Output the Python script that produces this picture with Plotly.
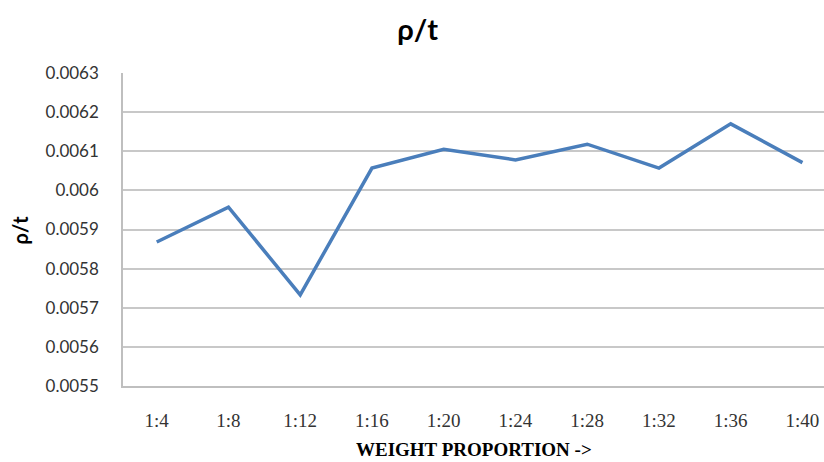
import plotly.graph_objects as go

# Weight proportion categories and measured ρ/t values
proportions = ["1:4", "1:8", "1:12", "1:16", "1:20", "1:24", "1:28", "1:32", "1:36", "1:40"]
rho_t = [0.005868, 0.005957, 0.005733, 0.006057, 0.006105, 0.006078, 0.006118, 0.006057, 0.006170, 0.006071]
y_ticks = [0.0055, 0.0056, 0.0057, 0.0058, 0.0059, 0.006, 0.0061, 0.0062, 0.0063]
y_tick_text = ["0.0055", "0.0056", "0.0057", "0.0058", "0.0059", "0.006", "0.0061", "0.0062", "0.0063"]

idx = list(range(len(proportions)))

fig = go.Figure()
fig.add_trace(go.Scatter(
    x=idx, y=rho_t, mode="lines",
    line=dict(color="#4a7ebb", width=3.5),
    showlegend=False, hoverinfo="skip",
))

fig.update_layout(
    width=824, height=462,
    paper_bgcolor="white", plot_bgcolor="white",
    margin=dict(l=123, r=0, t=73, b=76),
    title=dict(text="<b>ρ/t</b>", x=0.507, xanchor="center", y=0.935, yanchor="middle",
               font=dict(family="Lato", size=29, color="black")),
    xaxis=dict(
        range=[-0.47, 9.3], tickmode="array", tickvals=idx, ticktext=proportions,
        showgrid=False, zeroline=False, showline=True, linecolor="#bfbfbf", linewidth=1.5,
        ticks="", ticklabelstandoff=16,
        tickfont=dict(family="Liberation Serif", size=19, color="#333333"),
    ),
    yaxis=dict(
        range=[0.0055, 0.0063], tickmode="array", tickvals=y_ticks, ticktext=y_tick_text,
        showgrid=True, gridcolor="#c8c8c8", gridwidth=1.5,
        zeroline=False, showline=True, linecolor="#bfbfbf", linewidth=1.5,
        ticks="", ticklabelstandoff=19,
        tickfont=dict(family="Lato", size=17, color="#333333"),
    ),
    annotations=[
        dict(text="<b>WEIGHT PROPORTION -></b>", xref="paper", yref="paper",
             x=0.5, y=-0.203, xanchor="center", yanchor="middle", showarrow=False,
             font=dict(family="Liberation Serif", size=19, color="black")),
        dict(text="<b>ρ/t</b>", xref="paper", yref="paper",
             x=-0.147, y=0.5, xanchor="center", yanchor="middle", showarrow=False, textangle=-90,
             font=dict(family="Lato", size=20, color="black")),
    ],
)

fig.write_html("out.html")
